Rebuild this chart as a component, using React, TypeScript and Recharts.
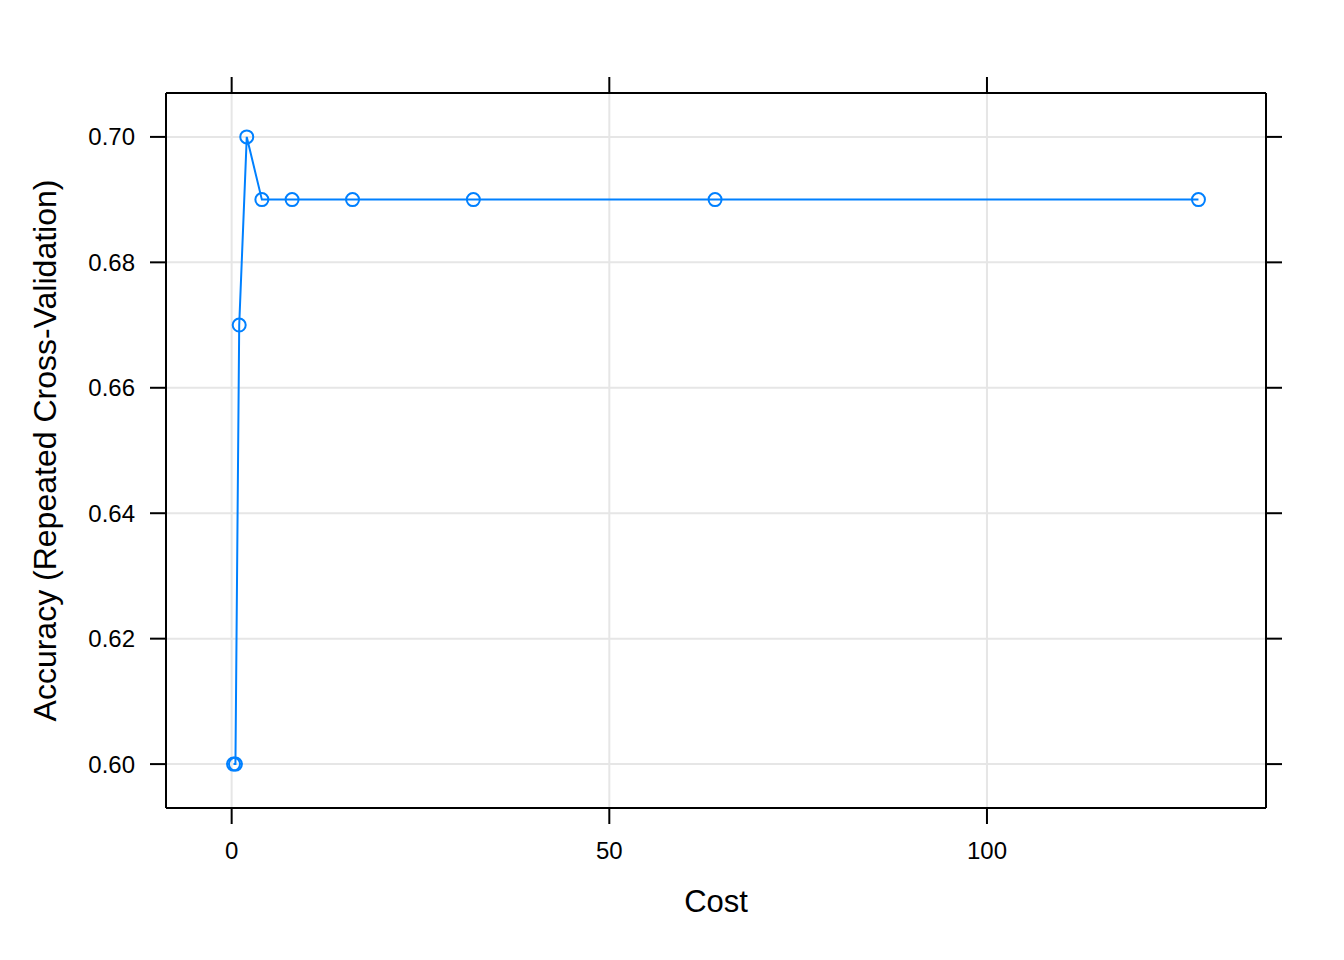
import { CartesianGrid, Line, LineChart, XAxis, YAxis } from "recharts";

const costs = [0.25, 0.5, 1, 2, 4, 8, 16, 32, 64, 128];
const accuracy = [0.6, 0.6, 0.67, 0.7, 0.69, 0.69, 0.69, 0.69, 0.69, 0.69];
const xTicks = [0, 50, 100];
const yTicks = [0.6, 0.62, 0.64, 0.66, 0.68, 0.7];

const FONT = "'Liberation Sans', Arial, Helvetica, sans-serif";
const BLUE = "#0080ff";

export default function App() {
  const data = costs.map((c, i) => ({ cost: c, acc: accuracy[i] }));
  const xDomain = [-8.6925, 136.9425];
  const yDomain = [0.593, 0.707];
  const axisLine = { stroke: "#000", strokeWidth: 2 };
  const noLabel = { fill: "none", fontSize: 1 };

  return (
    <div style={{ position: "absolute", left: 0, top: 0, background: "#fff" }}>
      <LineChart width={1344} height={960} data={data} margin={{ top: 73, right: 58, left: 0, bottom: 0 }}>
        <CartesianGrid stroke="#e6e6e6" strokeWidth={2} />
        <XAxis
          dataKey="cost"
          type="number"
          domain={xDomain}
          ticks={xTicks}
          allowDataOverflow
          height={152}
          tickSize={16}
          tickMargin={18}
          axisLine={axisLine}
          tickLine={axisLine}
          tick={{ fill: "#000", fontSize: 24, fontFamily: FONT }}
          label={{ value: "Cost", position: "insideBottom", offset: 48, fill: "#000", fontSize: 31, fontFamily: FONT }}
        />
        <XAxis
          xAxisId="top"
          orientation="top"
          dataKey="cost"
          type="number"
          domain={xDomain}
          ticks={xTicks}
          allowDataOverflow
          height={20}
          tickSize={16}
          axisLine={axisLine}
          tickLine={axisLine}
          tick={noLabel}
          tickFormatter={() => ""}
        />
        <YAxis
          type="number"
          domain={yDomain}
          ticks={yTicks}
          allowDataOverflow
          width={166}
          tickSize={16}
          tickMargin={15}
          axisLine={axisLine}
          tickLine={axisLine}
          tickFormatter={(v: number) => v.toFixed(2)}
          tick={{ fill: "#000", fontSize: 24, fontFamily: FONT }}
          label={{
            value: "Accuracy (Repeated Cross-Validation)",
            angle: -90,
            position: "insideLeft",
            offset: 45,
            style: { textAnchor: "middle" },
            fill: "#000",
            fontSize: 32,
            fontFamily: FONT,
          }}
        />
        <YAxis
          yAxisId="right"
          orientation="right"
          type="number"
          domain={yDomain}
          ticks={yTicks}
          allowDataOverflow
          width={20}
          tickSize={16}
          axisLine={axisLine}
          tickLine={axisLine}
          tick={noLabel}
          tickFormatter={() => ""}
        />
        <Line
          dataKey="acc"
          type="linear"
          stroke={BLUE}
          strokeWidth={2}
          dot={{ r: 6.5, fill: "none", stroke: BLUE, strokeWidth: 2 }}
          activeDot={false}
          isAnimationActive={false}
        />
      </LineChart>
    </div>
  );
}
